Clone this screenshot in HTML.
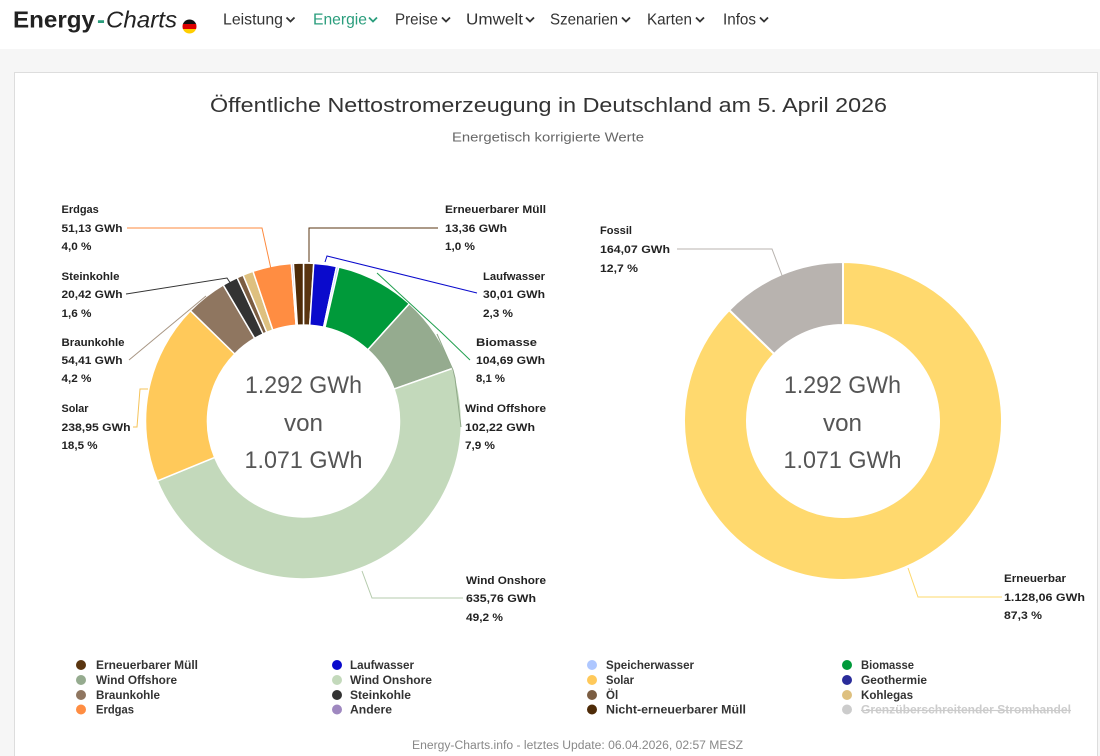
<!DOCTYPE html>
<html>
<head>
<meta charset="utf-8">
<style>
  html,body{margin:0;padding:0;background:#f6f6f6;}
  svg{display:block;}
  .nav{font-family:"Liberation Sans",sans-serif;font-size:16px;fill:#333;}
  .lbl{font-family:"Liberation Sans",sans-serif;font-size:11px;font-weight:bold;fill:#222;}
  .leg{font-family:"Liberation Sans",sans-serif;font-size:11.5px;font-weight:bold;fill:#333;}
  .ctr{font-family:"Liberation Sans",sans-serif;font-size:24px;fill:#555;}
</style>
</head>
<body>
<svg width="1100" height="756" viewBox="0 0 1100 756" xmlns="http://www.w3.org/2000/svg">
  <defs>
    <clipPath id="flagclip"><circle cx="189.5" cy="26.5" r="7"/></clipPath>
  </defs>
  <rect x="0" y="0" width="1100" height="756" fill="#f6f6f6"/>
  <rect x="0" y="0" width="1100" height="49" fill="#ffffff"/>
  <rect x="14.5" y="72.5" width="1083" height="700" fill="#ffffff" stroke="#dddddd" stroke-width="1"/>

  <text x="13" y="27.5" font-family="Liberation Sans, sans-serif" font-size="23" font-weight="bold" fill="#222" textLength="82" lengthAdjust="spacingAndGlyphs">Energy</text>
  <text x="97" y="27.5" font-family="Liberation Sans, sans-serif" font-size="23" font-weight="bold" fill="#2a9d7c" textLength="8" lengthAdjust="spacingAndGlyphs">-</text>
  <text x="106" y="27.5" font-family="Liberation Sans, sans-serif" font-size="23" font-style="italic" fill="#222" textLength="71" lengthAdjust="spacingAndGlyphs">Charts</text>
  <g clip-path="url(#flagclip)">
    <rect x="182" y="19" width="15" height="5" fill="#111"/>
    <rect x="182" y="24" width="15" height="5" fill="#dd0000"/>
    <rect x="182" y="29" width="15" height="6" fill="#ffce00"/>
  </g>

  <text class="nav" x="223" y="24.5" textLength="60" lengthAdjust="spacingAndGlyphs">Leistung</text>
  <text class="nav" x="313" y="24.5" textLength="54" lengthAdjust="spacingAndGlyphs" style="fill:#2a9d7c">Energie</text>
  <text class="nav" x="395" y="24.5" textLength="43" lengthAdjust="spacingAndGlyphs">Preise</text>
  <text class="nav" x="466" y="24.5" textLength="57" lengthAdjust="spacingAndGlyphs">Umwelt</text>
  <text class="nav" x="550" y="24.5" textLength="68" lengthAdjust="spacingAndGlyphs">Szenarien</text>
  <text class="nav" x="647" y="24.5" textLength="45" lengthAdjust="spacingAndGlyphs">Karten</text>
  <text class="nav" x="723" y="24.5" textLength="33" lengthAdjust="spacingAndGlyphs">Infos</text>
  <g fill="none" stroke="#333" stroke-width="1.8">
    <polyline points="286.5,17.5 290.5,21.5 294.5,17.5"/>
    <polyline points="369,17.5 373,21.5 377,17.5" stroke="#2a9d7c"/>
    <polyline points="442,17.5 446,21.5 450,17.5"/>
    <polyline points="526,17.5 530,21.5 534,17.5"/>
    <polyline points="622,17.5 626,21.5 630,17.5"/>
    <polyline points="696,17.5 700,21.5 704,17.5"/>
    <polyline points="760,17.5 764,21.5 768,17.5"/>
  </g>

  <text x="548.5" y="112" text-anchor="middle" font-family="Liberation Sans, sans-serif" font-size="20" fill="#333" textLength="677" lengthAdjust="spacingAndGlyphs">Öffentliche Nettostromerzeugung in Deutschland am 5. April 2026</text>
  <text x="548" y="141.5" text-anchor="middle" font-family="Liberation Sans, sans-serif" font-size="13" fill="#666" textLength="192" lengthAdjust="spacingAndGlyphs">Energetisch korrigierte Werte</text>

  <g stroke="#ffffff" stroke-width="1.5" stroke-linejoin="round">
    <path fill="#5a3510" d="M 303.5 263 A 158 158 0 0 1 313.76 263.33 L 309.73 325.20 A 96 96 0 0 0 303.5 325 Z"/>
    <path fill="#0a0acc" d="M 313.76 263.33 A 158 158 0 0 1 336.58 266.50 L 323.60 327.13 A 96 96 0 0 0 309.73 325.20 Z"/>
    <path fill="#aec7ff" d="M 336.58 266.50 A 158 158 0 0 1 338.82 267.00 L 324.96 327.43 A 96 96 0 0 0 323.60 327.13 Z"/>
    <path fill="#009a3a" d="M 338.82 267.00 A 158 158 0 0 1 409.39 303.73 L 367.84 349.75 A 96 96 0 0 0 324.96 327.43 Z"/>
    <path fill="#95ab8f" d="M 409.39 303.73 A 158 158 0 0 1 452.50 368.43 L 394.03 389.06 A 96 96 0 0 0 367.84 349.75 Z"/>
    <path fill="#c3d9bb" d="M 452.50 368.43 A 158 158 0 0 1 157.32 480.95 L 214.68 457.43 A 96 96 0 0 0 394.03 389.06 Z"/>
    <path fill="#ffc95a" d="M 157.32 480.95 A 158 158 0 0 1 190.38 310.69 L 234.77 353.98 A 96 96 0 0 0 214.68 457.43 Z"/>
    <path fill="#8f7660" d="M 190.38 310.69 A 158 158 0 0 1 223.19 284.93 L 254.71 338.32 A 96 96 0 0 0 234.77 353.98 Z"/>
    <path fill="#333333" d="M 223.19 284.93 A 158 158 0 0 1 237.08 277.64 L 263.15 333.89 A 96 96 0 0 0 254.71 338.32 Z"/>
    <path fill="#7b5d42" d="M 237.08 277.64 A 158 158 0 0 1 243.07 275.01 L 266.78 332.30 A 96 96 0 0 0 263.15 333.89 Z"/>
    <path fill="#dec07f" d="M 243.07 275.01 A 158 158 0 0 1 252.99 271.29 L 272.81 330.04 A 96 96 0 0 0 266.78 332.30 Z"/>
    <path fill="#ff8d42" d="M 252.99 271.29 A 158 158 0 0 1 291.37 263.47 L 296.13 325.28 A 96 96 0 0 0 272.81 330.04 Z"/>
    <path fill="#9f88c0" d="M 291.37 263.47 A 158 158 0 0 1 293.37 263.33 L 297.34 325.20 A 96 96 0 0 0 296.13 325.28 Z"/>
    <path fill="#4e2b08" d="M 293.37 263.33 A 158 158 0 0 1 303.5 263 L 303.5 325 A 96 96 0 0 0 297.34 325.20 Z"/>
  </g>

  <g fill="none" stroke-width="1">
    <polyline stroke="#fe8a3e" points="127,228 262,228 271,269"/>
    <polyline stroke="#333333" points="126,294 227,278 231,284"/>
    <polyline stroke="#a89684" points="129,360 206,296"/>
    <polyline stroke="#f5c35a" points="133,427 137,427 140,389 148,389"/>
    <polyline stroke="#5a3510" points="438,228 309,228 309,262"/>
    <polyline stroke="#0a0acc" points="477,293 327,256 325,262"/>
    <polyline stroke="#22a050" points="470,360 442,333 377,273"/>
    <polyline stroke="#8fa888" points="461,427 455,378 453,370 437,334"/>
    <polyline stroke="#b5cbad" points="463,598 372,598 362,571"/>
  </g>

  <text class="lbl" x="61.5" y="213">Erdgas</text>
  <text class="lbl" x="61.5" y="232" textLength="61" lengthAdjust="spacingAndGlyphs">51,13 GWh</text>
  <text class="lbl" x="61.5" y="250" textLength="30" lengthAdjust="spacingAndGlyphs">4,0 %</text>

  <text class="lbl" x="61.5" y="280" textLength="58" lengthAdjust="spacingAndGlyphs">Steinkohle</text>
  <text class="lbl" x="61.5" y="298" textLength="61" lengthAdjust="spacingAndGlyphs">20,42 GWh</text>
  <text class="lbl" x="61.5" y="317" textLength="30" lengthAdjust="spacingAndGlyphs">1,6 %</text>

  <text class="lbl" x="61.5" y="346" textLength="63" lengthAdjust="spacingAndGlyphs">Braunkohle</text>
  <text class="lbl" x="61.5" y="364" textLength="61" lengthAdjust="spacingAndGlyphs">54,41 GWh</text>
  <text class="lbl" x="61.5" y="382" textLength="30" lengthAdjust="spacingAndGlyphs">4,2 %</text>

  <text class="lbl" x="61.5" y="412" textLength="27" lengthAdjust="spacingAndGlyphs">Solar</text>
  <text class="lbl" x="61.5" y="431" textLength="69" lengthAdjust="spacingAndGlyphs">238,95 GWh</text>
  <text class="lbl" x="61.5" y="449" textLength="36" lengthAdjust="spacingAndGlyphs">18,5 %</text>

  <text class="lbl" x="445" y="213" textLength="101" lengthAdjust="spacingAndGlyphs">Erneuerbarer Müll</text>
  <text class="lbl" x="445" y="232" textLength="62" lengthAdjust="spacingAndGlyphs">13,36 GWh</text>
  <text class="lbl" x="445" y="250" textLength="30" lengthAdjust="spacingAndGlyphs">1,0 %</text>

  <text class="lbl" x="483" y="280" textLength="62" lengthAdjust="spacingAndGlyphs">Laufwasser</text>
  <text class="lbl" x="483" y="298" textLength="62" lengthAdjust="spacingAndGlyphs">30,01 GWh</text>
  <text class="lbl" x="483" y="317" textLength="30" lengthAdjust="spacingAndGlyphs">2,3 %</text>

  <text class="lbl" x="476" y="346" textLength="61" lengthAdjust="spacingAndGlyphs">Biomasse</text>
  <text class="lbl" x="476" y="364" textLength="69" lengthAdjust="spacingAndGlyphs">104,69 GWh</text>
  <text class="lbl" x="476" y="382" textLength="29" lengthAdjust="spacingAndGlyphs">8,1 %</text>

  <text class="lbl" x="465" y="412" textLength="81" lengthAdjust="spacingAndGlyphs">Wind Offshore</text>
  <text class="lbl" x="465" y="431" textLength="70" lengthAdjust="spacingAndGlyphs">102,22 GWh</text>
  <text class="lbl" x="465" y="449" textLength="30" lengthAdjust="spacingAndGlyphs">7,9 %</text>

  <text class="lbl" x="466" y="584" textLength="80" lengthAdjust="spacingAndGlyphs">Wind Onshore</text>
  <text class="lbl" x="466" y="602" textLength="70" lengthAdjust="spacingAndGlyphs">635,76 GWh</text>
  <text class="lbl" x="466" y="621" textLength="37" lengthAdjust="spacingAndGlyphs">49,2 %</text>

  <text class="ctr" x="303.5" y="393" text-anchor="middle" textLength="117" lengthAdjust="spacingAndGlyphs">1.292 GWh</text>
  <text class="ctr" x="303.5" y="431" text-anchor="middle" textLength="39" lengthAdjust="spacingAndGlyphs">von</text>
  <text class="ctr" x="303.5" y="468" text-anchor="middle" textLength="118" lengthAdjust="spacingAndGlyphs">1.071 GWh</text>

  <g stroke="#ffffff" stroke-width="2" stroke-linejoin="round">
    <path fill="#ffd96e" d="M 843 262 A 159 159 0 1 1 729.17 309.99 L 774.27 353.98 A 96 96 0 1 0 843 325 Z"/>
    <path fill="#b8b3af" d="M 729.17 309.99 A 159 159 0 0 1 843 262 L 843 325 A 96 96 0 0 0 774.27 353.98 Z"/>
  </g>
  <g fill="none" stroke-width="1">
    <polyline stroke="#b8b3af" points="677,249 772,249 783,278"/>
    <polyline stroke="#fed86b" points="1002,597 918,597 908,568"/>
  </g>
  <text class="lbl" x="600" y="234" textLength="32" lengthAdjust="spacingAndGlyphs">Fossil</text>
  <text class="lbl" x="600" y="253" textLength="70" lengthAdjust="spacingAndGlyphs">164,07 GWh</text>
  <text class="lbl" x="600" y="272" textLength="38" lengthAdjust="spacingAndGlyphs">12,7 %</text>

  <text class="lbl" x="1004" y="582" textLength="62" lengthAdjust="spacingAndGlyphs">Erneuerbar</text>
  <text class="lbl" x="1004" y="601" textLength="81" lengthAdjust="spacingAndGlyphs">1.128,06 GWh</text>
  <text class="lbl" x="1004" y="619" textLength="38" lengthAdjust="spacingAndGlyphs">87,3 %</text>

  <text class="ctr" x="842.5" y="393" text-anchor="middle" textLength="117" lengthAdjust="spacingAndGlyphs">1.292 GWh</text>
  <text class="ctr" x="842.5" y="431" text-anchor="middle" textLength="39" lengthAdjust="spacingAndGlyphs">von</text>
  <text class="ctr" x="842.5" y="468" text-anchor="middle" textLength="118" lengthAdjust="spacingAndGlyphs">1.071 GWh</text>

  <g>
    <circle cx="81" cy="665" r="5" fill="#5a3510"/>
    <text class="leg" x="96" y="669" textLength="102" lengthAdjust="spacingAndGlyphs">Erneuerbarer Müll</text>
    <circle cx="337" cy="665" r="5" fill="#0a0acc"/>
    <text class="leg" x="350" y="669" textLength="64" lengthAdjust="spacingAndGlyphs">Laufwasser</text>
    <circle cx="592" cy="665" r="5" fill="#aec7ff"/>
    <text class="leg" x="606" y="669" textLength="88" lengthAdjust="spacingAndGlyphs">Speicherwasser</text>
    <circle cx="847" cy="665" r="5" fill="#009a3a"/>
    <text class="leg" x="861" y="669" textLength="53" lengthAdjust="spacingAndGlyphs">Biomasse</text>

    <circle cx="81" cy="680" r="5" fill="#95ab8f"/>
    <text class="leg" x="96" y="684" textLength="81" lengthAdjust="spacingAndGlyphs">Wind Offshore</text>
    <circle cx="337" cy="680" r="5" fill="#c3d9bb"/>
    <text class="leg" x="350" y="684" textLength="82" lengthAdjust="spacingAndGlyphs">Wind Onshore</text>
    <circle cx="592" cy="680" r="5" fill="#ffc95a"/>
    <text class="leg" x="606" y="684" textLength="28" lengthAdjust="spacingAndGlyphs">Solar</text>
    <circle cx="847" cy="680" r="5" fill="#2a2c9a"/>
    <text class="leg" x="861" y="684" textLength="66" lengthAdjust="spacingAndGlyphs">Geothermie</text>

    <circle cx="81" cy="695" r="5" fill="#8f7660"/>
    <text class="leg" x="96" y="699" textLength="64" lengthAdjust="spacingAndGlyphs">Braunkohle</text>
    <circle cx="337" cy="695" r="5" fill="#333333"/>
    <text class="leg" x="350" y="699" textLength="61" lengthAdjust="spacingAndGlyphs">Steinkohle</text>
    <circle cx="592" cy="695" r="5" fill="#7b5d42"/>
    <text class="leg" x="606" y="699">Öl</text>
    <circle cx="847" cy="695" r="5" fill="#dec07f"/>
    <text class="leg" x="861" y="699" textLength="52" lengthAdjust="spacingAndGlyphs">Kohlegas</text>

    <circle cx="81" cy="709.5" r="5" fill="#ff8d42"/>
    <text class="leg" x="96" y="713.5" textLength="38" lengthAdjust="spacingAndGlyphs">Erdgas</text>
    <circle cx="337" cy="709.5" r="5" fill="#9f88c0"/>
    <text class="leg" x="350" y="713.5" textLength="42" lengthAdjust="spacingAndGlyphs">Andere</text>
    <circle cx="592" cy="709.5" r="5" fill="#4e2b08"/>
    <text class="leg" x="606" y="713.5" textLength="140" lengthAdjust="spacingAndGlyphs">Nicht-erneuerbarer Müll</text>
    <circle cx="847" cy="709.5" r="5" fill="#cccccc"/>
    <text class="leg" x="861" y="713.5" textLength="210" lengthAdjust="spacingAndGlyphs" style="fill:#cccccc;text-decoration:line-through;">Grenzüberschreitender Stromhandel</text>
  </g>

  <text x="412" y="749" font-family="Liberation Sans, sans-serif" font-size="11.5" fill="#888" textLength="331" lengthAdjust="spacingAndGlyphs">Energy-Charts.info - letztes Update: 06.04.2026, 02:57 MESZ</text>
</svg>
</body>
</html>
